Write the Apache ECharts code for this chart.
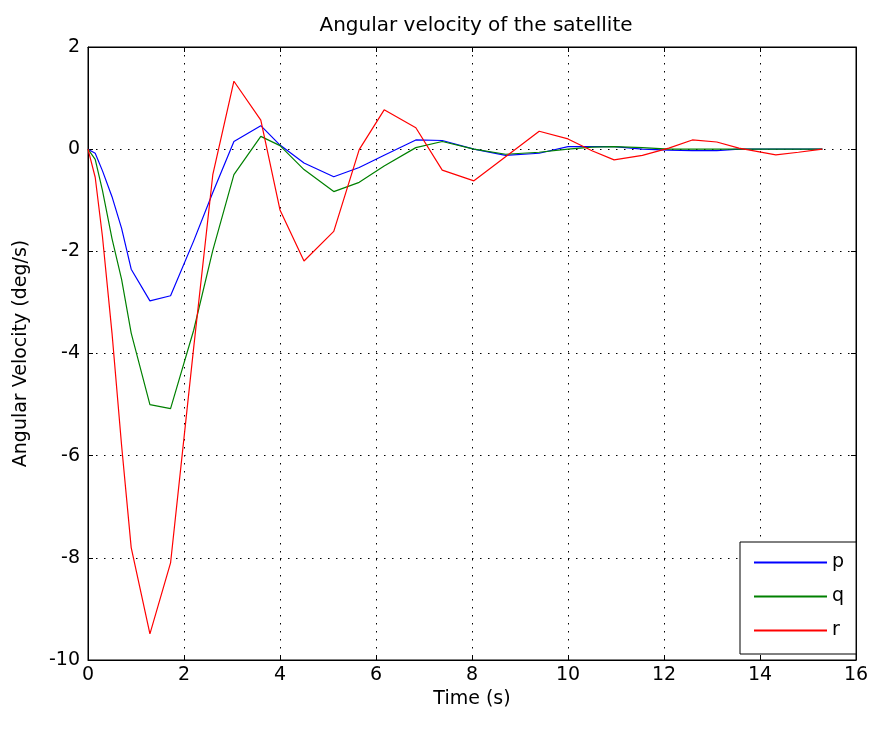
<!DOCTYPE html>
<html><head><meta charset="utf-8">
<script src="https://cdn.jsdelivr.net/npm/echarts@6/dist/echarts.min.js"></script>
<style>html,body{margin:0;padding:0;background:#fff}#c{width:883px;height:729px}</style>
</head><body><div id="c"></div>
<script>
const time = [0, 0.15, 0.3, 0.5, 0.7, 0.9, 1.29, 1.72, 2.2, 2.6, 3.04, 3.6, 4.0, 4.5, 5.12, 5.65, 6.17, 6.83, 7.38, 8.04, 8.7, 9.4, 10.0, 10.5, 10.96, 11.55, 12.1, 12.59, 13.1, 13.56, 14.33, 14.8, 15.3];
const pVals = [0, -0.08, -0.42, -0.93, -1.55, -2.35, -2.97, -2.87, -1.8, -0.85, 0.15, 0.46, 0.08, -0.27, -0.54, -0.36, -0.12, 0.18, 0.17, 0.0, -0.12, -0.08, 0.05, 0.05, 0.05, 0.0, -0.02, -0.03, -0.03, 0.0, 0.0, 0.0, 0.0];
const qVals = [0, -0.2, -0.8, -1.75, -2.55, -3.6, -5.0, -5.08, -3.55, -1.98, -0.5, 0.25, 0.07, -0.4, -0.83, -0.65, -0.33, 0.03, 0.15, 0.0, -0.1, -0.06, 0.0, 0.04, 0.05, 0.03, 0.0, 0.0, 0.0, 0.0, 0.0, 0.0, 0.0];
const rVals = [0, -0.55, -1.7, -3.6, -5.8, -7.8, -9.49, -8.1, -3.9, -0.5, 1.33, 0.57, -1.19, -2.19, -1.61, -0.01, 0.77, 0.42, -0.41, -0.62, -0.15, 0.35, 0.2, -0.03, -0.21, -0.12, 0.02, 0.18, 0.14, 0.02, -0.11, -0.06, 0.0];
const seriesNames = ['p', 'q', 'r'];
const xTicks = {min: 0, max: 16, interval: 2};
const yTicks = {min: -10, max: 2, interval: 2};

const font = 'DejaVu Sans, Liberation Sans, sans-serif';
const fs = 19;
const colors = ['#0000ff', '#008000', '#ff0000'];
const vals = [pVals, qVals, rVals];
const chart = echarts.init(document.getElementById('c'));
const mk = arr => time.map((t, i) => [t, arr[i]]);
const gridLine = {show: true, lineStyle: {color: '#000', type: [1.5, 6.5], width: 1}};
chart.setOption({
  animation: false,
  backgroundColor: '#fff',
  title: {text: 'Angular velocity of the satellite', left: 471, top: 11, textAlign: 'center',
    textStyle: {fontFamily: font, fontSize: 20, fontWeight: 'normal', color: '#000'}},
  grid: {left: 88, top: 47, width: 768, height: 613, show: true, borderColor: '#000', borderWidth: 1, backgroundColor: '#fff'},
  legend: {orient: 'vertical', left: 740, top: 542, data: seriesNames,
    itemWidth: 73, itemHeight: 14, itemGap: 15, padding: [11, 12, 14, 13],
    itemStyle: {opacity: 0},
    borderColor: '#000', borderWidth: 1, backgroundColor: '#fff',
    textStyle: {fontFamily: font, fontSize: fs, color: '#000'}},
  xAxis: [
    {type: 'value', min: xTicks.min, max: xTicks.max, interval: xTicks.interval, position: 'bottom',
     name: 'Time (s)', nameLocation: 'middle', nameGap: 16,
     nameTextStyle: {fontFamily: font, fontSize: fs, color: '#000'},
     axisLine: {show: true, onZero: false, lineStyle: {color: '#000'}},
     axisTick: {show: true, inside: true, length: 5, lineStyle: {color: '#000'}},
     axisLabel: {fontFamily: font, fontSize: fs, color: '#000', margin: 6},
     splitLine: gridLine},
    {type: 'value', min: xTicks.min, max: xTicks.max, interval: xTicks.interval, position: 'top',
     axisLine: {show: true, onZero: false, lineStyle: {color: '#000'}},
     axisTick: {show: true, inside: true, length: 5, lineStyle: {color: '#000'}},
     axisLabel: {show: false}, splitLine: {show: false}}
  ],
  yAxis: [
    {type: 'value', min: yTicks.min, max: yTicks.max, interval: yTicks.interval, position: 'left',
     name: 'Angular Velocity (deg/s)', nameLocation: 'middle', nameGap: 57,
     nameTextStyle: {fontFamily: font, fontSize: fs, color: '#000'},
     axisLine: {show: true, onZero: false, lineStyle: {color: '#000'}},
     axisTick: {show: true, inside: true, length: 5, lineStyle: {color: '#000'}},
     axisLabel: {fontFamily: font, fontSize: fs, color: '#000', margin: 8},
     splitLine: gridLine},
    {type: 'value', min: yTicks.min, max: yTicks.max, interval: yTicks.interval, position: 'right',
     axisLine: {show: true, onZero: false, lineStyle: {color: '#000'}},
     axisTick: {show: true, inside: true, length: 5, lineStyle: {color: '#000'}},
     axisLabel: {show: false}, splitLine: {show: false}}
  ],
  series: seriesNames.map((n, i) => ({
    name: n, type: 'line', data: mk(vals[i]), symbol: 'none', showSymbol: false,
    xAxisIndex: 0, yAxisIndex: 0,
    lineStyle: {color: colors[i], width: 1.2}, itemStyle: {color: colors[i]}
  }))
});
</script></body></html>
